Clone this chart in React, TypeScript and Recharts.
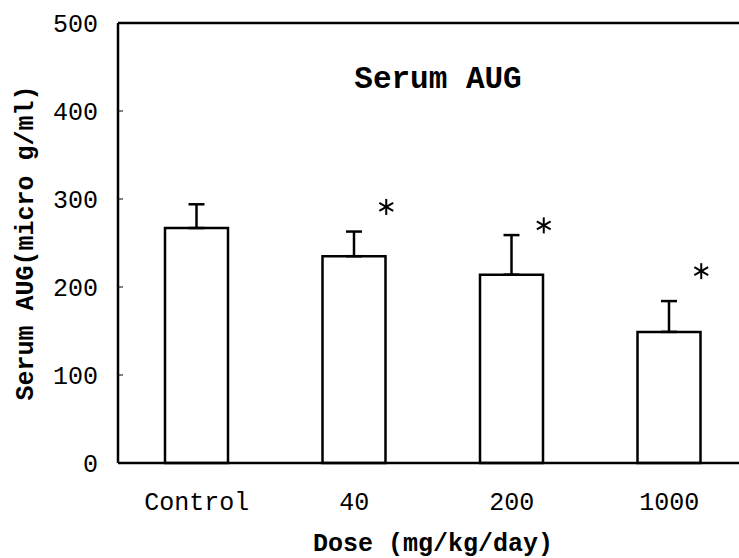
import React from 'react';
import { ComposedChart, Bar, ErrorBar, Scatter, XAxis, YAxis, ReferenceLine, Label } from 'recharts';

const categories = ['Control', '40', '200', '1000'];
const means = [267, 235, 214, 149];
const sems = [27, 28, 45, 35];
const starValues = [null, 291, 270, 218];
const yTicks = [0, 100, 200, 300, 400, 500];

const font = '"Liberation Mono", "DejaVu Sans Mono", monospace';

const data = categories.map((dose, i) => ({
  dose,
  mean: means[i],
  err: [0, sems[i]],
  star: starValues[i],
}));

// significance mark, drawn as a six-armed asterisk right of the bar
const Star = (props: any) => {
  const { cx, cy, payload } = props;
  if (payload.star == null || cy == null || isNaN(cy)) return <g />;
  const x = cx + 32;
  const r = 8;
  const dx = r * Math.cos(Math.PI / 6);
  const dy = r * Math.sin(Math.PI / 6);
  return (
    <g stroke="#000" strokeWidth={2}>
      <line x1={x} y1={cy - r} x2={x} y2={cy + r} />
      <line x1={x - dx} y1={cy - dy} x2={x + dx} y2={cy + dy} />
      <line x1={x - dx} y1={cy + dy} x2={x + dx} y2={cy - dy} />
    </g>
  );
};

const App = () => {
  return (
    <div style={{ position: 'absolute', left: 0, top: 0, width: 739, height: 558, overflow: 'hidden', background: '#fff' }}>
      <ComposedChart width={760} height={558} data={data} margin={{ top: 23, right: 12, bottom: 0, left: 0 }}>
        <XAxis
          dataKey="dose"
          height={95}
          tickLine={false}
          tickSize={0}
          tickMargin={29}
          axisLine={{ stroke: '#000', strokeWidth: 2.5 }}
          tick={{ fill: '#000', fontSize: 25, fontFamily: font }}
        >
          <Label value="Dose (mg/kg/day)" position="insideBottom" offset={7} fill="#000" fontSize={25} fontFamily={font} fontWeight="bold" />
        </XAxis>
        <YAxis
          width={118}
          domain={[0, 500]}
          ticks={yTicks}
          tickSize={-5}
          tickMargin={25}
          tickLine={{ stroke: '#000', strokeWidth: 1 }}
          axisLine={{ stroke: '#000', strokeWidth: 2.5 }}
          tick={{ fill: '#000', fontSize: 25, fontFamily: font }}
        >
          <Label
            value="Serum AUG(micro g/ml)"
            angle={-90}
            position="insideLeft"
            offset={24}
            fill="#000"
            fontSize={25}
            fontFamily={font}
            fontWeight="bold"
            style={{ textAnchor: 'middle' }}
          />
        </YAxis>
        <ReferenceLine y={500} stroke="#000" strokeWidth={2.5} />
        <Bar dataKey="mean" barSize={63} fill="#fff" stroke="#000" strokeWidth={2.5} isAnimationActive={false}>
          <ErrorBar dataKey="err" width={8} stroke="#000" strokeWidth={2.5} />
        </Bar>
        <Scatter dataKey="star" shape={Star} isAnimationActive={false} />
        <text x={438} y={88} textAnchor="middle" fontSize={31} fontWeight="bold" fontFamily={font} fill="#000">
          Serum AUG
        </text>
      </ComposedChart>
    </div>
  );
};

export default App;
